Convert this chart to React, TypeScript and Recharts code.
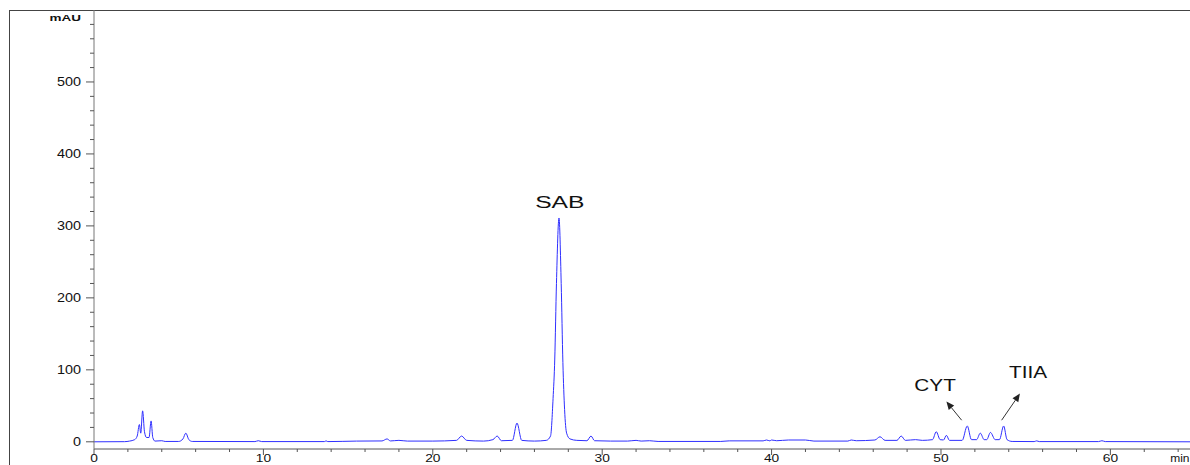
import React from "react";
import {
  LineChart,
  Line,
  XAxis,
  YAxis,
  ReferenceDot,
  ReferenceLine,
} from "recharts";

// retention time (min) and absorbance (mAU)
const times = [
  0, 1.8, 2.1, 2.4, 2.55, 2.68, 2.76, 2.87, 2.98, 3.1, 3.25, 3.37, 3.47, 3.6,
  4.0, 4.2, 5.0, 5.25, 5.42, 5.6, 5.8, 9.5, 9.7, 9.9, 13.6, 13.7, 13.8, 15.5,
  17.0, 17.3, 17.5, 18.0, 18.5, 20.0, 21.4, 21.7, 22.0, 23.0, 23.55, 23.8,
  24.05, 24.7, 24.97, 25.25, 26.0, 26.7, 26.95, 27.1, 27.2, 27.3, 27.45, 27.58,
  27.68, 27.78, 27.9, 28.1, 28.5, 29.1, 29.34, 29.55, 30.5, 31.5, 32.0, 32.3,
  32.8, 33.3, 37.0, 37.5, 39.5, 39.7, 39.9, 40.0, 40.3, 41.0, 42.0, 42.5, 44.5,
  44.7, 45.0, 46.1, 46.4, 46.7, 47.4, 47.65, 47.9, 48.5, 48.9, 49.5, 49.72,
  49.95, 50.15, 50.32, 50.5, 51.25, 51.55, 51.8, 52.1, 52.32, 52.55, 52.7,
  52.92, 53.2, 53.45, 53.7, 53.9, 54.2, 55.5, 55.65, 55.8, 59.3, 59.5, 59.7,
  64.7,
];
const signal = [
  0, 0.2, 1, 3, 8, 24, 12, 43, 14, 6, 6, 29, 6, 1,
  1.5, 0.5, 0.5, 4, 12, 3, 0.5, 0.3, 1.5, 0.3, 0.3, 1.3, 0.3, 1,
  1.2, 4, 1.2, 2, 1, 1, 2, 8, 2, 1, 3, 8,
  1.5, 2, 26, 2, 1, 2, 8, 60, 115, 220, 311, 220,
  110, 45, 12, 4, 2, 1.5, 8, 1.5, 1, 1, 2, 1,
  1.5, 0.5, 0.5, 1.3, 1.3, 2.5, 1.3, 2.5, 1.5, 2.5, 2.5, 1, 1,
  2.5, 1.5, 2.5, 7, 2, 2, 8, 2, 3, 2, 3, 14,
  3, 2.5, 9, 2, 2, 22, 3, 3, 12, 3, 3,
  13, 3, 3, 22, 3, 0.5, 0.3, 1.3, 0.3, 0.3, 1.5, 0.3,
  0,
];

const xTicks = [
  0, 2, 4, 6, 8, 10, 12, 14, 16, 18, 20, 22, 24, 26, 28, 30, 32, 34, 36, 38,
  40, 42, 44, 46, 48, 50, 52, 54, 56, 58, 60, 62, 64,
];
const yTicks = [
  0, 20, 40, 60, 80, 100, 120, 140, 160, 180, 200, 220, 240, 260, 280, 300,
  320, 340, 360, 380, 400, 420, 440, 460, 480, 500, 520, 540, 560, 580, 600,
];

// peak names and where they sit (data coords)
const peakLabels = [
  { name: "SAB", x: 27.5, y: 325, size: 17, stretch: 1.45 },
  { name: "CYT", x: 49.65, y: 71, size: 16, stretch: 1.3 },
  { name: "TIIA", x: 55.14, y: 89, size: 16, stretch: 1.3 },
];
const arrows = [
  { from: { x: 51.22, y: 30 }, to: { x: 50.32, y: 56 } },
  { from: { x: 53.58, y: 30 }, to: { x: 54.66, y: 67 } },
];

const data = times.map((t, i) => ({ t, v: signal[i] }));

const FONT = "'Liberation Sans', Arial, sans-serif";

const XTick = (props: any) => {
  const { x, y, payload } = props;
  const v = payload.value;
  const major = v % 10 === 0;
  const isEnd = v === 64;
  return (
    <g>
      <line x1={x} y1={y} x2={x} y2={y + (major ? 6 : 3)} stroke="#555" />
      {major && (
        <text
          transform={`translate(${x},${y + 13}) scale(1.25,1)`}
          textAnchor="middle"
          fontSize={11}
          fontFamily={FONT}
          fill="#111"
        >
          {v}
        </text>
      )}
      {isEnd && (
        <text
          transform={`translate(${x - 8},${y + 13}) scale(1.2,1)`}
          textAnchor="start"
          fontSize={10}
          fontFamily={FONT}
          fill="#111"
        >
          min
        </text>
      )}
    </g>
  );
};

const YTick = (props: any) => {
  const { x, y, payload } = props;
  const v = payload.value;
  const major = v % 100 === 0;
  let label = major ? String(v) : "";
  if (v === 600) label = "mAU";
  return (
    <g>
      {v !== 600 && (
        <line x1={x - (major ? 8 : 4)} y1={y} x2={x} y2={y} stroke="#555" />
      )}
      {label && (
        <text
          transform={`translate(${x - 13},${y + (v === 600 ? 11 : 4)}) scale(${v === 600 ? 1.5 : 1.2},1)`}
          textAnchor="end"
          fontSize={v === 600 ? 9 : 12}
          fontWeight={v === 600 ? "bold" : "normal"}
          fontFamily={FONT}
          fill="#111"
        >
          {label}
        </text>
      )}
    </g>
  );
};

const arrowShape = (props: any) => {
  const { x1, y1, x2, y2 } = props;
  const dx = x2 - x1;
  const dy = y2 - y1;
  const len = Math.sqrt(dx * dx + dy * dy);
  const ux = dx / len;
  const uy = dy / len;
  const hl = 8;
  const hw = 3.5;
  const bx = x2 - ux * hl;
  const by = y2 - uy * hl;
  const pts = `${x2},${y2} ${bx - uy * hw},${by + ux * hw} ${bx + uy * hw},${by - ux * hw}`;
  return (
    <g>
      <line x1={x1} y1={y1} x2={bx} y2={by} stroke="#333" strokeWidth={1} />
      <polygon points={pts} fill="#222" />
    </g>
  );
};

export default function App() {
  return (
    <div
      style={{
        position: "fixed",
        left: 0,
        top: 0,
        width: 1190,
        height: 465,
        background: "#fff",
        overflow: "hidden",
      }}
    >
      <div
        style={{
          position: "absolute",
          left: 9,
          top: 10,
          width: 1200,
          height: 470,
          borderLeft: "1px solid #444",
          borderTop: "1px solid #444",
        }}
      />
      <div style={{ position: "absolute", left: 0, top: 0 }}>
        <LineChart
          width={1190}
          height={465}
          data={data}
          margin={{ top: 10, right: 0, left: 0, bottom: 0 }}
        >
          <XAxis
            dataKey="t"
            type="number"
            domain={[0, 64.7]}
            ticks={xTicks}
            interval={0}
            height={16}
            tickSize={0}
            tickMargin={0}
            tickLine={false}
            stroke="#555"
            tick={(p: any) => <XTick {...p} />}
          />
          <YAxis
            type="number"
            domain={[-10, 600]}
            ticks={yTicks}
            interval={0}
            width={94}
            tickSize={0}
            tickMargin={0}
            tickLine={false}
            stroke="#777"
            tick={(p: any) => <YTick {...p} />}
          />
          <Line
            type="monotone"
            dataKey="v"
            stroke="#2f2fff"
            strokeWidth={1}
            dot={false}
            isAnimationActive={false}
          />
          {arrows.map((a, i) => (
            <ReferenceLine
              key={"arrow" + i}
              segment={[a.from, a.to]}
              shape={arrowShape}
            />
          ))}
          {peakLabels.map((p) => (
            <ReferenceDot
              key={p.name}
              x={p.x}
              y={p.y}
              r={0}
              shape={(s: any) => (
                <text
                  transform={`translate(${s.cx},${s.cy}) scale(${p.stretch},1)`}
                  textAnchor="middle"
                  fontSize={p.size}
                  fontFamily={FONT}
                  fill="#111"
                >
                  {p.name}
                </text>
              )}
            />
          ))}
        </LineChart>
      </div>
    </div>
  );
}
